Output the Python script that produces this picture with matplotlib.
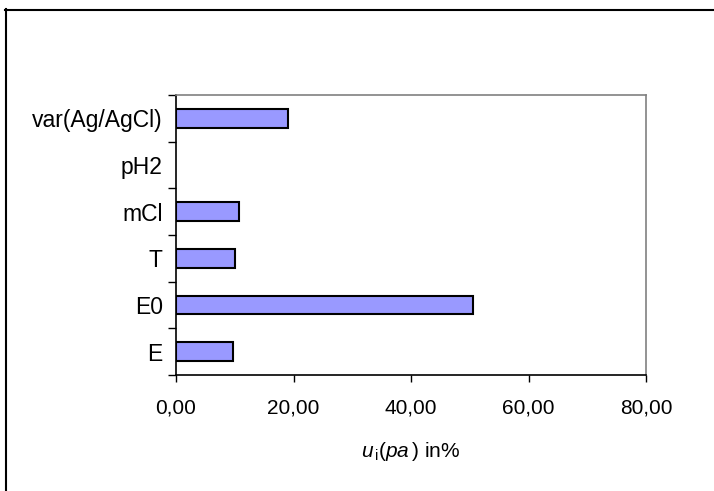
import matplotlib
matplotlib.use('Agg')
import matplotlib.pyplot as plt
from matplotlib.lines import Line2D
from matplotlib.ticker import FixedLocator, FuncFormatter
import numpy as np

plt.rcParams['font.family'] = ['Liberation Sans', 'DejaVu Sans']
plt.rcParams['mathtext.fontset'] = 'custom'
plt.rcParams['mathtext.rm'] = 'Liberation Sans'
plt.rcParams['mathtext.it'] = 'Liberation Sans:italic'

# uncertainty contributions (%)
labels = ['E', 'E0', 'T', 'mCl', 'pH2', 'var(Ag/AgCl)']
values = [9.7, 50.5, 10.0, 10.7, 0.0, 19.0]
xticks = [0, 20, 40, 60, 80]

fig = plt.figure(figsize=(7.14, 4.91), dpi=100)
ax = fig.add_axes([176/714, 1 - 375/491, 470/714, 280/491])

y = np.arange(len(labels))
edge_w = [1.5 if v > 0 else 0 for v in values]
ax.barh(y, values, height=0.4, color='#9999FF', edgecolor='black', linewidth=edge_w)

ax.set_xlim(0, 80)
ax.set_ylim(-0.5, len(labels) - 0.5)
ax.set_xticks(xticks)
ax.xaxis.set_major_formatter(FuncFormatter(lambda v, p: f'{v:.2f}'.replace('.', ',')))
ax.set_yticks(y)
ax.set_yticklabels(labels)
ax.yaxis.set_minor_locator(FixedLocator(np.arange(-0.5, len(labels), 1.0)))

ax.tick_params(axis='y', which='major', length=0, pad=9.5, labelsize=16.5)
ax.tick_params(axis='y', which='minor', length=6, width=1, direction='out')
ax.tick_params(axis='x', which='major', length=5, width=1, direction='out', pad=12, labelsize=15)

for s in ['left', 'bottom']:
    ax.spines[s].set_color('black')
    ax.spines[s].set_linewidth(1.2)
for s in ['top', 'right']:
    ax.spines[s].set_color('#808080')
    ax.spines[s].set_linewidth(1.2)

ax.set_xlabel(r'$\mathit{u}_{\,\mathrm{i}}(\mathit{pa}\,)$ in%', fontsize=15, labelpad=16)

# outer chart frame (open at right and bottom)
fig.add_artist(Line2D([5.5/714, 5.5/714], [0, 1 - 9/491], transform=fig.transFigure, color='black', lw=1.5))
fig.add_artist(Line2D([5/714, 1], [1 - 9.5/491, 1 - 9.5/491], transform=fig.transFigure, color='black', lw=1.5))

fig.savefig('out.png', dpi=100)
